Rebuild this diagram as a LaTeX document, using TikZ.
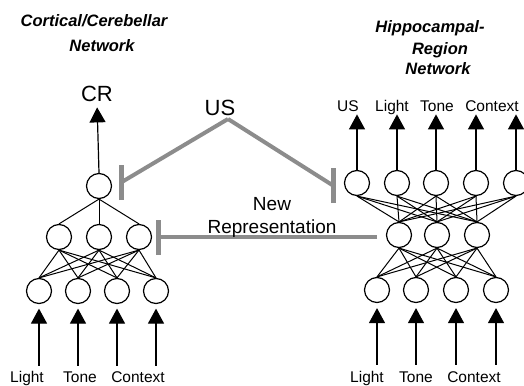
\documentclass[tikz,border=0pt]{standalone}
\usepackage{fontspec}
\setmainfont{Liberation Sans}
\usetikzlibrary{arrows.meta}
\definecolor{inhgray}{RGB}{140,140,140}
\begin{document}
\begin{tikzpicture}[x=1pt,y=-1pt,
  neuron/.style={circle,draw,line width=1.2pt,minimum size=25pt,inner sep=0pt},
  wire/.style={line width=1pt},
  arr/.style={line width=1.2pt,-{Triangle[length=15pt,width=16pt]}},
  inh/.style={draw=inhgray,line width=4pt},
  bar/.style={draw=inhgray,line width=5pt},
  lbl/.style={font=\fontsize{15.5}{18}\selectfont,anchor=base,inner sep=0pt},
  big/.style={font=\fontsize{22}{24}\selectfont,anchor=base,inner sep=0pt},
  title/.style={font=\fontsize{16.5}{20}\selectfont\bfseries\itshape,anchor=base,inner sep=0pt}]
\useasboundingbox (0,0) rectangle (524,385);

% titles
\node[title] (tl1) at (94,27) {Cortical/Cerebellar};
\node[title] (tl2) at (102,52) {Network};
\node[title] (tr1) at (430,33) {Hippocampal-};
\node[title] (tr2) at (440,55) {Region};
\node[title] (tr3) at (438,75) {Network};

% left network
\node[neuron] (out) at (99,186) {};
\node[neuron] (h1) at (59,237) {};
\node[neuron] (h2) at (99,237) {};
\node[neuron] (h3) at (139,237) {};
\node[neuron] (i1) at (39,291) {};
\node[neuron] (i2) at (78,291) {};
\node[neuron] (i3) at (117,291) {};
\node[neuron] (i4) at (156,291) {};
\foreach \i in {1,...,4} \foreach \h in {1,2,3} \draw[wire] (i\i.north) -- (h\h.south);
\foreach \h in {1,2,3} \draw[wire] (h\h.north) -- (out.south);

\node[big] (CR) at (97,102) {CR};
\draw[arr,shorten >=5pt] (out.north) -- (CR.south);

\foreach \i in {1,...,4} {
  \coordinate (li\i) at ([yshift=-61.5pt]i\i.south);
  \draw[arr,shorten >=4.5pt] (li\i) -- (i\i.south);
}
\node[lbl] (lL) at (27,382) {Light};
\node[lbl] (lT) at (80,382) {Tone};
\node[lbl] (lC) at (138,382) {Context};

% right network
\node[neuron] (t1) at (357,183) {};
\node[neuron] (t2) at (397,183) {};
\node[neuron] (t3) at (436,183) {};
\node[neuron] (t4) at (476,183) {};
\node[neuron] (t5) at (516,183) {};
\node[neuron] (rh1) at (399,235) {};
\node[neuron] (rh2) at (437,235) {};
\node[neuron] (rh3) at (477,235) {};
\node[neuron] (ri1) at (377,290) {};
\node[neuron] (ri2) at (416,290) {};
\node[neuron] (ri3) at (456,290) {};
\node[neuron] (ri4) at (496,290) {};
\foreach \i in {1,...,4} \foreach \h in {1,2,3} \draw[wire] (ri\i.north) -- (rh\h.south);
\foreach \h in {1,2,3} \foreach \t in {1,...,5} \draw[wire] (rh\h.north) -- (t\t.south);

\foreach \t in {1,...,5} {
  \coordinate (ro\t) at ([yshift=55.5pt]t\t.north);
  \draw[arr] (t\t.north) -- (ro\t);
}
\node[lbl] (rUS) at (348,112) {US};
\node[lbl] (rL) at (392,112) {Light};
\node[lbl] (rT) at (437,112) {Tone};
\node[lbl] (rC) at (492,112) {Context};

\foreach \i in {1,...,4} {
  \coordinate (ri\i b) at ([yshift=-61.5pt]ri\i.south);
  \draw[arr,shorten >=5pt] (ri\i b) -- (ri\i.south);
}
\node[lbl] (rbL) at (367,382) {Light};
\node[lbl] (rbT) at (416,382) {Tone};
\node[lbl] (rbC) at (474,382) {Context};

% US inhibitory connections
\node[big] (US) at (220,115) {US};
\coordinate (apex) at (228,119);
\coordinate (lbar) at (121,182.5);
\coordinate (rbar) at (333,185.5);
\draw[inh] (apex) -- (lbar);
\draw[inh] (apex) -- (rbar);
\draw[bar] ([yshift=-17.5pt]lbar) -- ([yshift=17.5pt]lbar);
\draw[bar] ([yshift=-17.5pt]rbar) -- ([yshift=17.5pt]rbar);

% New representation
\coordinate (nbar) at (158,237);
\coordinate (nstart) at (377,237);
\draw[inh] (nstart) -- (nbar);
\draw[bar] ([yshift=-17.5pt]nbar) -- ([yshift=17.5pt]nbar);
\node[font=\fontsize{19}{23}\selectfont,align=center,anchor=base,inner sep=0pt] (NR) at (272,233) {New\\Representation};
\end{tikzpicture}
\end{document}
